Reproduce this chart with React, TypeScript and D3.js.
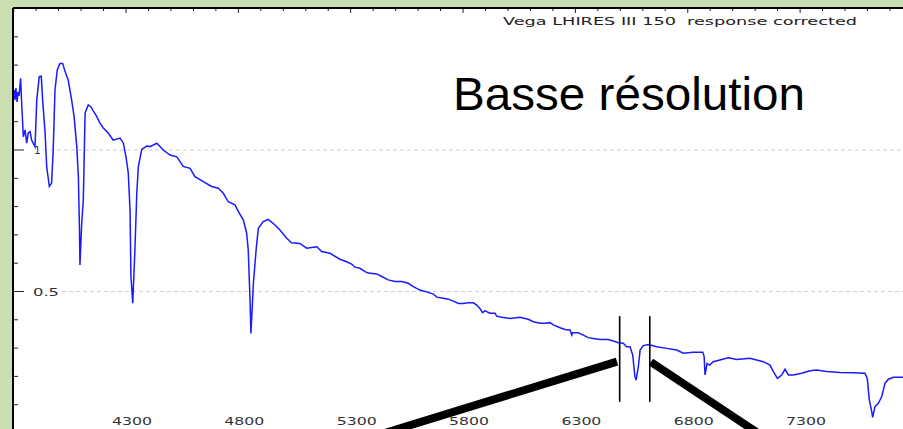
import React from "react";
import * as d3 from "d3";

const wavelengths = [
  3797, 3802, 3806, 3810, 3815, 3819, 3824, 3831, 3835, 3843, 3851, 3858, 3865, 3873, 3880, 3887, 3895,
  3903, 3914, 3923, 3929, 3940, 3947, 3959, 3969, 3976, 3984, 3994, 4006, 4018, 4029, 4043, 4058, 4069,
  4081, 4088, 4093, 4095, 4103, 4110, 4118, 4132, 4143, 4170, 4184, 4199, 4221, 4243, 4273, 4288, 4300,
  4310, 4318, 4322, 4330, 4340, 4348, 4355, 4370, 4392, 4407, 4437, 4466, 4496, 4526, 4555, 4585, 4607,
  4644, 4681, 4711, 4733, 4755, 4785, 4800, 4822, 4837, 4844, 4852, 4856, 4867, 4879, 4889, 4911, 4933,
  4963, 4985, 5015, 5037, 5074, 5104, 5149, 5171, 5208, 5252, 5282, 5304, 5319, 5341, 5364, 5378, 5416,
  5438, 5467, 5497, 5527, 5556, 5579, 5608, 5645, 5668, 5683, 5712, 5734, 5757, 5779, 5801, 5823, 5846,
  5861, 5875, 5887, 5898, 5905, 5920, 5942, 5950, 5972, 6009, 6053, 6090, 6113, 6142, 6165, 6187, 6202,
  6232, 6254, 6276, 6284, 6288, 6313, 6335, 6357, 6380, 6409, 6446, 6469, 6491, 6513, 6528, 6543, 6555,
  6565, 6570, 6580, 6588, 6602, 6625, 6662, 6706, 6751, 6780, 6825, 6867, 6873, 6877, 6886, 6898, 6913,
  6943, 6980, 7018, 7077, 7136, 7166, 7181, 7199, 7218, 7233, 7248, 7270, 7307, 7344, 7374, 7418, 7478,
  7537, 7589, 7599, 7608, 7619, 7623, 7633, 7648, 7663, 7678, 7693, 7715, 7758,
];

const flux = [
  1.187, 1.212, 1.177, 1.219, 1.17, 1.205, 1.191, 1.253, 1.177, 1.047, 1.071, 1.024, 1.06, 1.065, 1.035, 1.024, 1.012,
  1.177, 1.259, 1.261, 1.177, 1.06, 0.941, 0.871, 0.883, 1.0, 1.212, 1.283, 1.306, 1.306, 1.277, 1.247, 1.177, 1.118,
  1.012, 0.907, 0.717, 0.594, 0.742, 0.823, 1.131, 1.159, 1.153, 1.118, 1.095, 1.078, 1.06, 1.035, 1.042, 1.025, 0.976,
  0.919, 0.788, 0.553, 0.459, 0.654, 0.848, 0.941, 1.002, 1.014, 1.012, 1.024, 1.0, 0.982, 0.976, 0.942, 0.935, 0.906,
  0.888, 0.871, 0.865, 0.847, 0.817, 0.806, 0.782, 0.753, 0.706, 0.647, 0.47, 0.352, 0.529, 0.647, 0.723, 0.747, 0.755,
  0.735, 0.717, 0.688, 0.672, 0.67, 0.653, 0.658, 0.641, 0.635, 0.614, 0.605, 0.597, 0.586, 0.582, 0.57, 0.565, 0.562,
  0.553, 0.541, 0.535, 0.535, 0.529, 0.517, 0.505, 0.497, 0.491, 0.48, 0.476, 0.473, 0.466, 0.458, 0.458, 0.46, 0.46,
  0.452, 0.44, 0.425, 0.432, 0.429, 0.423, 0.423, 0.413, 0.409, 0.405, 0.409, 0.402, 0.393, 0.388, 0.388, 0.39, 0.382,
  0.372, 0.366, 0.364, 0.346, 0.354, 0.354, 0.346, 0.337, 0.334, 0.33, 0.33, 0.325, 0.319, 0.317, 0.305, 0.305, 0.276,
  0.199, 0.187, 0.234, 0.293, 0.309, 0.313, 0.305, 0.299, 0.293, 0.282, 0.285, 0.285, 0.27, 0.205, 0.246, 0.24, 0.252,
  0.258, 0.266, 0.26, 0.264, 0.252, 0.24, 0.217, 0.193, 0.205, 0.225, 0.205, 0.205, 0.211, 0.22, 0.223, 0.217, 0.214,
  0.213, 0.211, 0.193, 0.117, 0.075, 0.055, 0.093, 0.105, 0.128, 0.176, 0.19, 0.197, 0.197,
];

const xTickLabels = [4300, 4800, 5300, 5800, 6300, 6800, 7300];
const yTickLabels = [1, 0.5];
const chartTitle = "Vega LHIRES III 150  response corrected";
const overlayTitle = "Basse résolution";
// zoom bracket around H-alpha, and the two pointer lines (wavelength, flux)
const bracketWavelengths = [6497, 6631];
const bracketFlux = [0.11, 0.413];
const pointerLeft: [number, number][] = [[6485, 0.252], [5370, -0.02]];
const pointerRight: [number, number][] = [[6636, 0.251], [7150, -0.02]];

const W = 903;
const H = 429;
const left = 13;
const top = 8;

export default function App() {
  const x = d3.scaleLinear().domain([4300, 7300]).range([126, 800.1]);
  const y = d3.scaleLinear().domain([0.5, 1]).range([291.5, 150]);

  const line = d3
    .line<number>()
    .x((_, i) => x(wavelengths[i]))
    .y((d) => y(d));

  const xMin = x.invert(left);
  const xMax = x.invert(W);
  const topTicks = d3.range(Math.ceil(xMin / 100) * 100, xMax, 100);
  const yTicks = d3.range(1, 16).map((v) => v / 10);

  const smallFont = "'DejaVu Sans', Verdana, sans-serif";

  return (
    <svg
      width={W}
      height={H}
      style={{ position: "fixed", left: 0, top: 0, display: "block" }}
    >
      <rect x={0} y={0} width={W} height={H} fill="#c9deb1" />
      <rect x={left} y={top} width={W - left} height={H - top} fill="#ffffff" />
      <defs>
        <clipPath id="plot">
          <rect x={left} y={top} width={W - left} height={H - top} />
        </clipPath>
      </defs>

      {/* grid lines */}
      {yTickLabels.map((v) => (
        <line
          key={"g" + v}
          x1={v === 1 ? 43 : 62}
          x2={W}
          y1={y(v)}
          y2={y(v)}
          stroke="#cfcfcf"
          strokeWidth={1}
          strokeDasharray="4,3"
        />
      ))}

      {/* top ticks */}
      {topTicks.map((t) => {
        const major = (t - 4300) % 500 === 0;
        return (
          <line
            key={"t" + t}
            x1={x(t)}
            x2={x(t)}
            y1={top}
            y2={top + (major ? 5 : 3)}
            stroke="#222"
            strokeWidth={1}
          />
        );
      })}

      {/* left ticks */}
      {yTicks.map((v) => {
        const major = Math.abs(v - 1) < 1e-6 || Math.abs(v - 0.5) < 1e-6;
        return (
          <line
            key={"l" + v}
            x1={left}
            x2={left + (major ? 11 : 5)}
            y1={y(v)}
            y2={y(v)}
            stroke="#222"
            strokeWidth={1}
          />
        );
      })}

      {/* y tick labels */}
      {yTickLabels.map((v) =>
        v === 1 ? (
          <text
            key={"yl" + v}
            x={34}
            y={y(v) + 4}
            fontFamily={smallFont}
            fontSize={10.5}
            fill="#333"
          >
            1
          </text>
        ) : (
          <text
            key={"yl" + v}
            x={33}
            y={y(v) + 4}
            fontFamily={smallFont}
            fontSize={10.5}
            fill="#333"
            textLength={26}
            lengthAdjust="spacingAndGlyphs"
          >
            0.5
          </text>
        )
      )}

      {/* x tick labels */}
      {xTickLabels.map((t) => (
        <text
          key={"xl" + t}
          x={x(t) + 6 - 20}
          y={425}
          fontFamily={smallFont}
          fontSize={10.5}
          fill="#333"
          textLength={40}
          lengthAdjust="spacingAndGlyphs"
        >
          {t}
        </text>
      ))}

      {/* chart title */}
      <text
        x={503}
        y={25}
        fontFamily={smallFont}
        fontSize={11}
        fill="#222"
        textLength={354}
        lengthAdjust="spacingAndGlyphs"
        style={{ whiteSpace: "pre" }}
      >
        {chartTitle}
      </text>

      {/* spectrum */}
      <g clipPath="url(#plot)">
        <path d={line(flux) || ""} fill="none" stroke="#1a1aff" strokeWidth={1.5} />
      </g>

      {/* bracket */}
      {bracketWavelengths.map((w) => (
        <line
          key={"b" + w}
          x1={x(w)}
          x2={x(w)}
          y1={y(bracketFlux[0])}
          y2={y(bracketFlux[1])}
          stroke="#000"
          strokeWidth={1.6}
        />
      ))}

      {/* pointer lines */}
      {[pointerLeft, pointerRight].map((p, i) => (
        <line
          key={"p" + i}
          x1={x(p[0][0])}
          y1={y(p[0][1])}
          x2={x(p[1][0])}
          y2={y(p[1][1])}
          stroke="#000"
          strokeWidth={8}
        />
      ))}

      {/* left & top frame */}
      <line x1={left} x2={left} y1={top} y2={H} stroke="#000" strokeWidth={2} />
      <line x1={left} x2={W} y1={top} y2={top} stroke="#000" strokeWidth={2} />

      {/* overlay title */}
      <text
        x={453}
        y={110}
        fontFamily="'Liberation Sans', Arial, sans-serif"
        fontSize={47}
        fill="#000"
        textLength={352}
        lengthAdjust="spacingAndGlyphs"
      >
        {overlayTitle}
      </text>
    </svg>
  );
}
